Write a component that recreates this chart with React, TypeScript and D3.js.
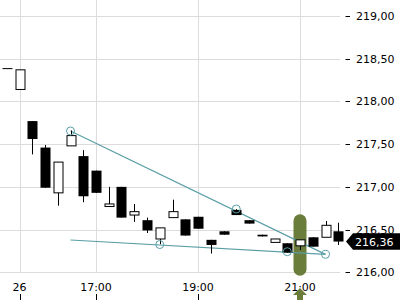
import React from "react";
import * as d3 from "d3";

const opens = [218.39, 218.14, 217.77, 217.46, 216.93, 217.48, 217.36, 217.19, 216.77, 217.0, 216.67, 216.61, 216.39, 216.64, 216.62, 216.65, 216.38, 216.48, 216.73, 216.61, 216.44, 216.35, 216.34, 216.31, 216.41, 216.41, 216.48];
const highs = [218.39, 218.37, 217.77, 217.49, 217.29, 217.66, 217.43, 217.19, 217.0, 217.0, 216.8, 216.64, 216.52, 216.85, 216.62, 216.65, 216.38, 216.48, 216.74, 216.61, 216.44, 216.39, 216.34, 216.38, 216.41, 216.6, 216.58];
const lows = [218.39, 218.14, 217.38, 216.99, 216.78, 217.48, 216.82, 216.93, 216.77, 216.64, 216.59, 216.46, 216.33, 216.64, 216.43, 216.51, 216.22, 216.44, 216.67, 216.57, 216.42, 216.35, 216.23, 216.26, 216.3, 216.41, 216.32];
const closes = [218.39, 218.37, 217.56, 216.99, 217.29, 217.6, 216.89, 216.93, 216.8, 216.64, 216.71, 216.49, 216.52, 216.71, 216.43, 216.51, 216.32, 216.44, 216.67, 216.57, 216.42, 216.39, 216.23, 216.38, 216.3, 216.55, 216.36];

const yTicks = [216, 216.5, 217, 217.5, 218, 218.5, 219];
const xTickIdx = [1, 7, 15, 23];
const xTickLabels = ["26", "17:00", "19:00", "21:00"];

// trend lines: [startIdx, startVal, endIdx, endVal]
const trendUpper = [5, 217.654, 25, 216.21];
const trendLower = [5, 216.378, 25, 216.21];
const anchorIdx = [5, 12, 18, 22, 25];
const anchorVals = [217.654, 216.325, 216.741, 216.241, 216.21];

const lastPrice = 216.36;
const highlightIdx = 23;

const W = 400;
const H = 300;

export default function App() {
  const x = d3.scaleLinear().domain([0, 26]).range([6.75, 338.25]);
  const y = d3.scaleLinear().domain([216, 219]).range([272.3, 16]);
  const fmt = (v: number) => d3.format(".2f")(v).replace(".", ",");
  const teal = "#5a9ea6";
  const olive = "#6b7d3a";
  const grid = "#dcdcdc";
  const font = "DejaVu Sans, sans-serif";
  const bw = 9;
  const line = d3.line<[number, number]>().x((d) => x(d[0])).y((d) => y(d[1]));

  const hx = x(highlightIdx);
  const py = y(lastPrice);

  return (
    <svg width={W} height={H} style={{ position: "absolute", left: 0, top: 0, background: "#fff" }} fontFamily={font}>
      {/* grid */}
      {yTicks.map((t) => (
        <line key={"gy" + t} x1={0} x2={340} y1={Math.round(y(t)) + 0.5} y2={Math.round(y(t)) + 0.5} stroke={grid} strokeWidth={1} />
      ))}
      {xTickIdx.map((i) => (
        <line key={"gx" + i} x1={Math.round(x(i)) + 0.5} x2={Math.round(x(i)) + 0.5} y1={0} y2={272} stroke={grid} strokeWidth={1} />
      ))}

      {/* highlight pill */}
      <rect x={hx - 6.5} y={214.3} width={13} height={61.4} rx={6.5} fill={olive} />

      {/* trend lines */}
      <path d={line([[trendUpper[0], trendUpper[1]], [trendUpper[2], trendUpper[3]]]) || ""} stroke={teal} strokeWidth={1.2} fill="none" />
      <path d={line([[trendLower[0], trendLower[1]], [trendLower[2], trendLower[3]]]) || ""} stroke={teal} strokeWidth={1.2} fill="none" />

      {/* candles */}
      {opens.map((o, i) => {
        const c = closes[i];
        const cx = Math.round(x(i)) + 0.5;
        const up = c > o;
        const top = y(Math.max(o, c));
        const bot = y(Math.min(o, c));
        const h = Math.max(1, bot - top);
        return (
          <g key={"c" + i}>
            <line x1={cx} x2={cx} y1={y(highs[i])} y2={y(lows[i])} stroke="#000" strokeWidth={1} />
            {up ? (
              <rect x={cx - bw / 2} y={top} width={bw} height={h} fill="#fff" stroke="#000" strokeWidth={1} />
            ) : (
              <rect x={cx - bw / 2 - 0.5} y={top} width={bw + 1} height={h} fill="#000" />
            )}
          </g>
        );
      })}

      {/* anchor circles */}
      {anchorIdx.map((i, k) => (
        <circle key={"a" + k} cx={x(i)} cy={y(anchorVals[k])} r={4} fill="none" stroke={teal} strokeWidth={1} />
      ))}

      {/* y axis ticks and labels */}
      {yTicks.map((t) => (
        <g key={"yt" + t}>
          <line x1={345.5} x2={350} y1={Math.round(y(t)) + 0.5} y2={Math.round(y(t)) + 0.5} stroke="#000" strokeWidth={1} />
          <text x={356} y={y(t)} dy="0.36em" fontSize={11} fill="#000">
            {fmt(t)}
          </text>
        </g>
      ))}

      {/* last price label */}
      <path d={`M346,${py} L353,${py - 8.2} L400,${py - 8.2} L400,${py + 8.2} L353,${py + 8.2} Z`} fill="#000" />
      <text x={355} y={py} dy="0.36em" fontSize={11} fill="#fff">
        {fmt(lastPrice)}
      </text>

      {/* x axis labels and ticks */}
      {xTickIdx.map((i, k) => (
        <g key={"xt" + i}>
          <text x={x(i)} y={291} textAnchor="middle" fontSize={11} fill="#000">
            {xTickLabels[k]}
          </text>
          <line x1={Math.round(x(i)) + 0.5} x2={Math.round(x(i)) + 0.5} y1={294} y2={300} stroke="#000" strokeWidth={1} />
        </g>
      ))}

      {/* marker arrow */}
      <path d={`M${hx},288 L${hx + 7},295 L${hx + 3},295 L${hx + 3},300 L${hx - 3},300 L${hx - 3},295 L${hx - 7},295 Z`} fill={olive} />
    </svg>
  );
}
